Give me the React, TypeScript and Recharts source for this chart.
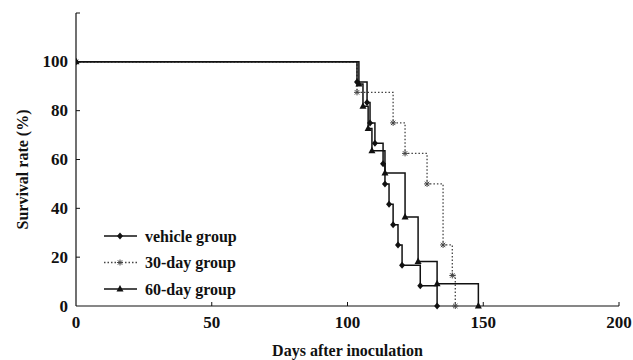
import React from 'react';
import { LineChart, Line, XAxis, YAxis, Customized } from 'recharts';

const vehicleDays = [0, 103.5, 107.2, 108.3, 110.1, 113.1, 113.8, 115.3, 116.8, 118.6, 120.1, 126.8, 133.0];
const vehicleRates = [100, 91.7, 83.3, 75, 66.7, 58.3, 50, 41.7, 33.3, 25, 16.7, 8.3, 0];
const day30Days = [0, 103.5, 116.8, 121.2, 129.3, 135.2, 138.6, 139.7];
const day30Rates = [100, 87.5, 75, 62.5, 50, 25, 12.5, 0];
const day60Days = [0, 104.2, 105.7, 107.6, 109.0, 113.8, 121.2, 126.0, 133.0, 148.2];
const day60Rates = [100, 90.9, 81.8, 72.7, 63.6, 54.5, 36.4, 18.2, 9.1, 0];

const xTicks = [0, 50, 100, 150, 200];
const yTicks = [0, 20, 40, 60, 80, 100, 120];
const yLabelMax = 100;
const legendLabels = ['vehicle group', '30-day group', '60-day group'];

const zip = (days: number[], rates: number[]) => days.map((d, i) => ({ day: d, rate: rates[i] }));
const vehicleData = zip(vehicleDays, vehicleRates);
const day30Data = zip(day30Days, day30Rates);
const day60Data = zip(day60Days, day60Rates);

const FONT = '"Liberation Serif", "DejaVu Serif", serif';
const INK = '#111';
const GREY = '#444';

const Diamond = ({ cx, cy }: any) =>
  cx == null ? null : (
    <polygon points={`${cx},${cy - 3.5} ${cx + 3},${cy} ${cx},${cy + 3.5} ${cx - 3},${cy}`} fill={INK} />
  );
const Tri = ({ cx, cy }: any) =>
  cx == null ? null : (
    <polygon points={`${cx},${cy - 4} ${cx + 3.5},${cy + 2.5} ${cx - 3.5},${cy + 2.5}`} fill={INK} />
  );
const Star = ({ cx, cy }: any) =>
  cx == null ? null : (
    <g stroke={GREY} strokeWidth={1}>
      <line x1={cx - 3} y1={cy} x2={cx + 3} y2={cy} />
      <line x1={cx} y1={cy - 3} x2={cx} y2={cy + 3} />
      <line x1={cx - 2.2} y1={cy - 2.2} x2={cx + 2.2} y2={cy + 2.2} />
      <line x1={cx - 2.2} y1={cy + 2.2} x2={cx + 2.2} y2={cy - 2.2} />
    </g>
  );

const YTick = ({ x, y, payload }: any) => (
  <g>
    {payload.value !== 0 && <line x1={x + 8} x2={x + 12} y1={y} y2={y} stroke={INK} strokeWidth={1} />}
    {payload.value <= yLabelMax && (
      <text x={x} y={y} textAnchor="end" dominantBaseline="central" fontFamily={FONT} fontWeight="bold" fontSize={17} fill={INK}>
        {payload.value}
      </text>
    )}
  </g>
);
const XTick = ({ x, y, payload }: any) => (
  <g>
    {payload.value !== 0 && <line x1={x} x2={x} y1={y - 10} y2={y - 14} stroke={INK} strokeWidth={1} />}
    <text x={x} y={y} dy="0.71em" textAnchor="middle" fontFamily={FONT} fontWeight="bold" fontSize={17} fill={INK}>
      {payload.value}
    </text>
  </g>
);

const LegendBox = () => {
  const rows = [
    { label: legendLabels[0], color: INK, dash: undefined, M: Diamond },
    { label: legendLabels[1], color: GREY, dash: '1.5 2', M: Star },
    { label: legendLabels[2], color: INK, dash: undefined, M: Tri },
  ];
  return (
    <g>
      {rows.map((r, i) => {
        const y = 236 + i * 26.5;
        return (
          <g key={i}>
            <line x1={104} x2={137} y1={y} y2={y} stroke={r.color} strokeWidth={1.5} strokeDasharray={r.dash} />
            <r.M cx={120} cy={y} />
            <text x={145} y={y} dominantBaseline="central" fontFamily={FONT} fontWeight="bold" fontSize={16} fill={INK}>
              {r.label}
            </text>
          </g>
        );
      })}
    </g>
  );
};

export default function App() {
  return (
    <div style={{ position: 'fixed', left: 0, top: 0, background: '#fff' }}>
      <LineChart width={633} height={360} margin={{ top: 13, right: 14, left: 0, bottom: 0 }}>
        <XAxis
          type="number"
          dataKey="day"
          domain={[0, 200]}
          ticks={xTicks}
          tick={<XTick />}
          tickSize={0}
          tickMargin={10}
          height={54}
          axisLine={{ stroke: INK, strokeWidth: 1.2 }}
          allowDataOverflow
          label={{ value: 'Days after inoculation', position: 'insideBottom', offset: 4, style: { fontFamily: FONT, fontWeight: 'bold', fontSize: 16, fill: INK } }}
        />
        <YAxis
          type="number"
          domain={[0, 120]}
          ticks={yTicks}
          tick={<YTick />}
          tickSize={0}
          tickMargin={8}
          width={76}
          axisLine={{ stroke: INK, strokeWidth: 1.2 }}
          label={{
            content: ({ viewBox }: any) => (
              <text
                x={22}
                y={viewBox.y + viewBox.height / 2 + 10}
                transform={`rotate(-90, 22, ${viewBox.y + viewBox.height / 2 + 10})`}
                textAnchor="middle"
                dominantBaseline="central"
                fontFamily={FONT}
                fontWeight="bold"
                fontSize={16}
                fill={INK}
              >
                Survival rate (%)
              </text>
            ),
          }}
        />
        <Line data={day30Data} dataKey="rate" type="stepAfter" stroke={GREY} strokeWidth={1.3} strokeDasharray="1.5 2" dot={<Star />} isAnimationActive={false} />
        <Line data={day60Data} dataKey="rate" type="stepAfter" stroke={INK} strokeWidth={1.5} dot={<Tri />} isAnimationActive={false} />
        <Line data={vehicleData} dataKey="rate" type="stepAfter" stroke={INK} strokeWidth={1.5} dot={<Diamond />} isAnimationActive={false} />
        <Customized component={LegendBox} />
      </LineChart>
    </div>
  );
}
